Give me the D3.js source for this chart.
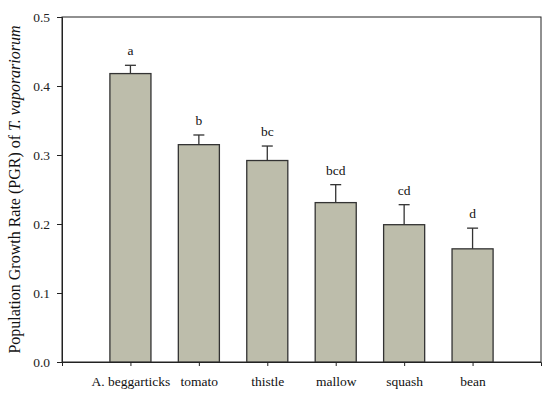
<!DOCTYPE html>
<html><head><meta charset="utf-8">
<script src="https://cdn.jsdelivr.net/npm/d3@7"></script>
<style>body{margin:0;background:#fff}</style>
</head><body>
<svg id="c" width="550" height="395"></svg>
<script>
const categories = ["A. beggarticks","tomato","thistle","mallow","squash","bean"];
const means = [0.418, 0.315, 0.292, 0.231, 0.199, 0.164];
const errors = [0.012, 0.014, 0.021, 0.026, 0.029, 0.030];
const letters = ["a","b","bc","bcd","cd","d"];
const yTicks = [0.0,0.1,0.2,0.3,0.4,0.5];

const svg = d3.select("#c");
const L=62, R=541, T=17, B=362;
const x = d3.scaleLinear().domain([0,7]).range([L,R]);
const y = d3.scaleLinear().domain([0,0.5]).range([B,T]);
const bw = (x(1)-x(0))*0.6;
const font = "'Liberation Serif','Times New Roman',serif";

// frame
svg.append("rect").attr("x",L).attr("y",T).attr("width",R-L).attr("height",B-T)
  .attr("fill","none").attr("stroke","#222").attr("stroke-width",1);

// bars
const g = svg.append("g");
categories.forEach((c,i)=>{
  const cx = x(i+1);
  g.append("rect").attr("x",cx-bw/2).attr("y",y(means[i])).attr("width",bw)
   .attr("height",y(0)-y(means[i])).attr("fill","#bdbdab").attr("stroke","#333").attr("stroke-width",1.3);
  g.append("line").attr("x1",cx).attr("x2",cx).attr("y1",y(means[i])).attr("y2",y(means[i]+errors[i]))
   .attr("stroke","#333").attr("stroke-width",1.3);
  g.append("line").attr("x1",cx-5.5).attr("x2",cx+5.5).attr("y1",y(means[i]+errors[i])).attr("y2",y(means[i]+errors[i]))
   .attr("stroke","#333").attr("stroke-width",1.3);
  g.append("text").attr("x",cx).attr("y",y(means[i]+errors[i])-10).attr("text-anchor","middle")
   .attr("font-family",font).attr("font-size",13.5).attr("fill","#111").text(letters[i]);
});

// y axis
const ya = svg.append("g").attr("transform",`translate(${L},0)`)
  .call(d3.axisLeft(y).tickValues(yTicks).tickFormat(d3.format(".1f")).tickSize(5).tickPadding(7));
ya.select(".domain").attr("stroke","#222");
ya.selectAll("line").attr("stroke","#222");
ya.selectAll("text").attr("font-family",font).attr("font-size",13.5).attr("fill","#222");

// x axis
const xa = svg.append("g").attr("transform",`translate(0,${B})`)
  .call(d3.axisBottom(x).tickValues(d3.range(1,7)).tickFormat(d=>categories[d-1]).tickSize(4).tickPadding(10));
xa.select(".domain").attr("stroke","#222");
xa.selectAll("line").attr("stroke","#222");
xa.selectAll("text").attr("font-family",font).attr("font-size",13.5).attr("fill","#111");

// y title
const t = svg.append("text").attr("transform",`translate(20,${(T+B)/2}) rotate(-90)`)
  .attr("text-anchor","middle").attr("font-family",font).attr("font-size",16).attr("fill","#111");
t.append("tspan").text("Population Growth Rate (PGR) of ");
t.append("tspan").attr("font-style","italic").text("T. vaporariorum");
</script>
</body></html>
